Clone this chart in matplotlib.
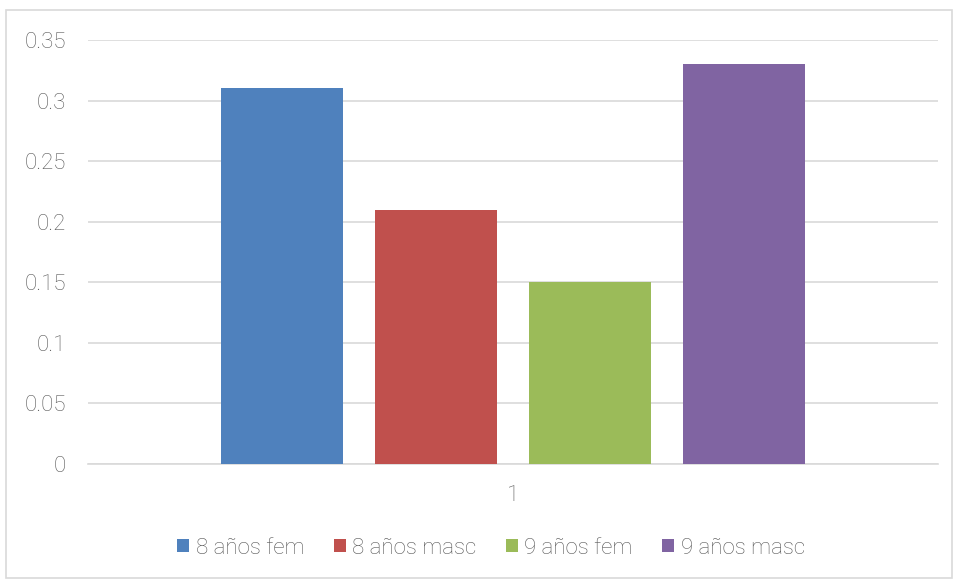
import matplotlib
matplotlib.use("Agg")
import matplotlib.pyplot as plt
from matplotlib.patches import Rectangle
import numpy as np

categories = ["1"]
series = ["8 años fem", "8 años masc", "9 años fem", "9 años masc"]
values = [0.31, 0.21, 0.15, 0.33]
colors = ["#4F81BD", "#C0504D", "#9BBB59", "#8064A2"]
yticks = [0, 0.05, 0.1, 0.15, 0.2, 0.25, 0.3, 0.35]
ytick_labels = ["0", "0.05", "0.1", "0.15", "0.2", "0.25", "0.3", "0.35"]

plt.rcParams['font.family'] = ['Roboto', 'DejaVu Sans']
plt.rcParams['font.weight'] = 'light'
txt = "#595959"

fig = plt.figure(figsize=(9.54, 5.8), dpi=100)
ax = fig.add_axes([88/954, 1-464/580, 850/954, 424/580])

width = 0.1435
step = 0.1812
n = len(series)
x = np.arange(len(categories))
for i, (s, v, c) in enumerate(zip(series, values, colors)):
    ax.bar(x + (i - (n-1)/2)*step, [v], width=width, color=c, label=s, zorder=3)

ax.set_xlim(-0.5, 0.5)
ax.set_ylim(0, 0.35)
ax.set_yticks(yticks)
ax.set_yticklabels(ytick_labels)
ax.set_xticks(x)
ax.set_xticklabels(categories)
ax.yaxis.grid(True, color="#d9d9d9", linewidth=1.2, zorder=0)
for sp in ["top", "right", "left"]:
    ax.spines[sp].set_visible(False)
ax.spines["bottom"].set_color("#d9d9d9")
ax.spines["bottom"].set_linewidth(1.2)
ax.tick_params(axis="both", length=0, labelsize=16, colors=txt)
ax.tick_params(axis="x", pad=15)
ax.tick_params(axis="y", pad=16)

leg = fig.legend(loc="center", bbox_to_anchor=(491/954, 1-548/580), ncol=4, frameon=False,
                 fontsize=16, handlelength=0.55, handleheight=0.55, handletextpad=0.3,
                 columnspacing=1.3, labelcolor=txt)

fig.patches.append(Rectangle((6/954, 2/580), 946/954, 568/580, transform=fig.transFigure,
                             fill=False, edgecolor="#d9d9d9", linewidth=1.2))

fig.savefig("out.png", dpi=100, facecolor="white")
